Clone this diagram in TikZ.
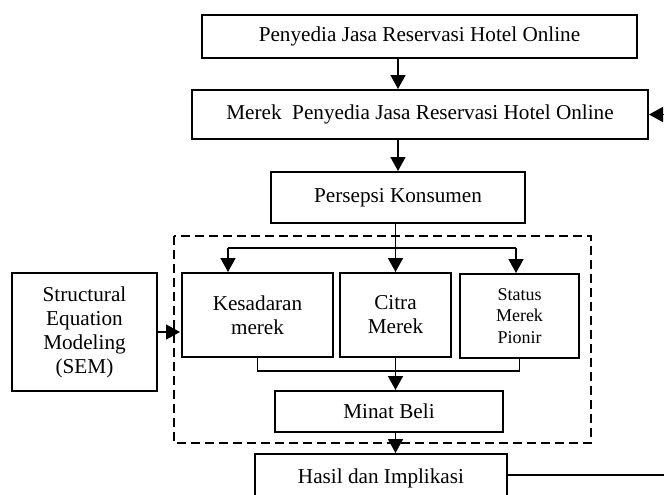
\documentclass[tikz,border=0pt]{standalone}
\usepackage{fontspec}
\setmainfont{Liberation Serif}
\usepackage{tikz}
\usetikzlibrary{positioning,calc}
\usetikzlibrary{arrows.meta}
\tikzstyle{kotak} = [rectangle, draw=black, line width=1pt, inner sep=0pt,
text centered, align=center, font=\fontsize{10.6}{12}\selectfont]
\tikzstyle{panah} = [line width=0.8pt, -{Triangle[length=7pt,width=7.5pt]}]
\tikzstyle{garis} = [line width=0.8pt]

\begin{document}
\begin{tikzpicture}[x=0.5pt,y=-0.5pt]
	\useasboundingbox (0,0) rectangle (664,494);
	\clip (0,0) rectangle (664,494);
	\node (penyedia) at (419.5,36.5) [kotak, minimum width=217.5pt, minimum height=21.5pt] {Penyedia Jasa Reservasi Hotel Online};
	\node (merek) at (420,114.5) [kotak, minimum width=228pt, minimum height=24.5pt] {Merek~~Penyedia Jasa Reservasi Hotel Online};
	\node (persepsi) at (398,197.5) [kotak, minimum width=127pt, minimum height=25.5pt] {Persepsi Konsumen};
	\node (kesadaran) at (257.5,315) [kotak, minimum width=75.5pt, minimum height=42pt] {Kesadaran\\merek};
	\node (citra) at (395.5,315) [kotak, minimum width=55.5pt, minimum height=42pt] {Citra\\Merek};
	\node (status) at (519.5,316) [kotak, minimum width=59.5pt, minimum height=42pt, font=\fontsize{9}{10.7}\selectfont] {Status\\Merek\\Pionir};
	\node (minat) at (389,411.5) [kotak, minimum width=114pt, minimum height=20.5pt] {Minat Beli};
	\node (hasil) at (381,478) [kotak, minimum width=126pt, minimum height=24pt] {Hasil dan Implikasi};
	\node (sem) at (84.5,332) [kotak, minimum width=72.5pt, minimum height=59pt] {Structural\\Equation\\Modeling\\(SEM)};
	% kotak putus-putus
	\draw[line width=0.7pt, dash pattern=on 4.5pt off 2.5pt] (174,236) rectangle (591,443);
	\coordinate (kiri) at (228,248);
	\coordinate (kanan) at (516,248);
	\coordinate (gabung) at (396,371);
	\draw[panah] (persepsi.north |- penyedia.south) -- (persepsi.north |- merek.north);
	\draw[panah] (persepsi.north |- merek.south) -- (persepsi.north);
	\draw[panah] (citra.north |- persepsi.south) -- (citra.north);
	\draw[garis] (kiri) -- (kanan);
	\draw[panah] (kiri) -- (kiri |- kesadaran.north);
	\draw[panah] (kanan) -- (kanan |- status.north);
	\draw[garis] (kesadaran.south) |- (status.south |- gabung) -- (status.south);
	\draw[panah] (citra.south) -- (citra.south |- minat.north);
	\draw[panah] (citra.south |- minat.south) -- (citra.south |- hasil.north);
	\draw[panah] (sem.east) -- ([xshift=-0.5pt]sem.east -| kesadaran.west);
	\draw[panah] ([yshift=1.5pt]hasil.east) -- ++(200,0) |- (merek.east);
\end{tikzpicture}
\end{document}
